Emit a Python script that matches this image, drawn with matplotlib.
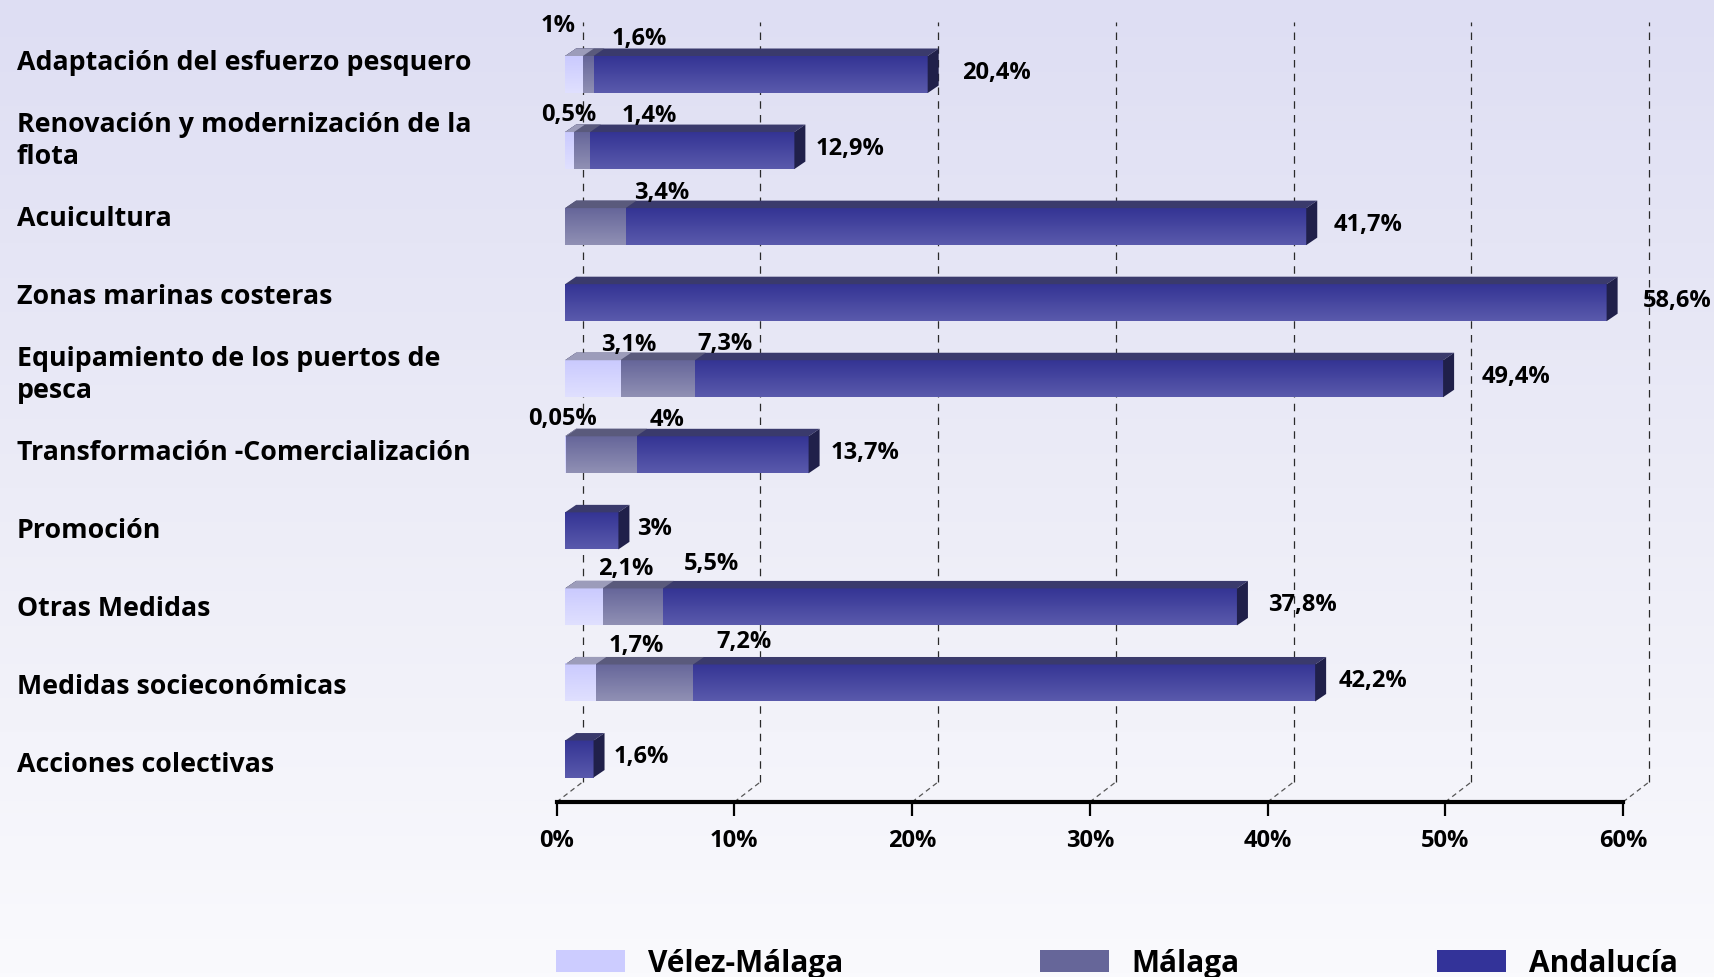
import matplotlib
matplotlib.use('Agg')
import matplotlib.pyplot as plt
import numpy as np
from matplotlib.patches import Polygon, Patch
from matplotlib.colors import LinearSegmentedColormap

categories = ['Adaptación del esfuerzo pesquero',
              'Renovación y modernización de la\nflota',
              'Acuicultura',
              'Zonas marinas costeras',
              'Equipamiento de los puertos de\npesca',
              'Transformación -Comercialización',
              'Promoción',
              'Otras Medidas',
              'Medidas socieconómicas',
              'Acciones colectivas']
velez = [1, 0.5, 0, 0, 3.1, 0.05, 0, 2.1, 1.7, 0]
malaga = [1.6, 1.4, 3.4, 0, 7.3, 4, 0, 5.5, 7.2, 0]
andalucia = [20.4, 12.9, 41.7, 58.6, 49.4, 13.7, 3, 37.8, 42.2, 1.6]
series_names = ['Vélez-Málaga', 'Málaga', 'Andalucía']
x_ticks = [0, 10, 20, 30, 40, 50, 60]

# hand placed label nudges (pixels from bar end / bar centre), as in the original
velez_nudge_x = [-25, -5, 0, 0, 9, -3, 0, 23, 41, 0]
velez_nudge_y = [49, 37, 0, 0, 35, 37, 0, 39, 38, 0]
malaga_nudge_x = [46, 59, 36, 0, 30, 31, 0, 49, 51, 0]
malaga_nudge_y = [37, 36, 35, 0, 36, 36, 0, 44, 42, 0]
andalucia_nudge_x = [34, 21, 27, 36, 39, 22, 19, 31, 23, 20]

plt.rcParams['font.family'] = ['Open Sans', 'DejaVu Sans']
plt.rcParams['font.weight'] = 'bold'

W, H = 1715, 978
fig = plt.figure(figsize=(W / 100, H / 100), dpi=100)

# background gradient
bg = fig.add_axes([0, 0, 1, 1], zorder=-10)
bg_cmap = LinearSegmentedColormap.from_list('bg', ['#dedef3', '#ececf7', '#fafafd'])
bg.imshow(np.linspace(0, 1, 256).reshape(-1, 1), cmap=bg_cmap, aspect='auto', extent=[0, 1, 0, 1])
bg.axis('off')

# plot area geometry (pixels)
x0_px, x1_px = 556.6, 1623
axis_px = 803
row0_px, row_step = 75.5, 76.06
ax = fig.add_axes([x0_px / W, 1 - axis_px / H, (x1_px - x0_px) / W, axis_px / H])
ax.patch.set_alpha(0)
xmax = 60
y_bot = (axis_px - row0_px) / row_step
y_top = -row0_px / row_step

sx = xmax / (x1_px - x0_px)   # data per pixel, x
sy = 1 / row_step             # data per pixel, y

front_dx = 8.5 * sx
depth_x, depth_y = 11 * sx, -7.5 * sy
grid_dx, grid_dy = 26 * sx, -20 * sy
bar_h = 37 * sy

# gridlines on back wall and floor
grid_top = (23 - row0_px) / row_step
for t in x_ticks:
    ax.plot([t + grid_dx, t + grid_dx], [y_bot + grid_dy, grid_top], color='#2a2a2a',
            lw=0.9, dashes=(6, 5), zorder=1, clip_on=False)
    ax.plot([t, t + grid_dx], [y_bot, y_bot + grid_dy], color='#555555',
            lw=0.9, dashes=(4, 3), zorder=1, clip_on=False)

styles = {
    'Andalucía': dict(front=('#343494', '#5a5aac'), top='#3a3a6c', side='#20204a', legend='#333399'),
    'Málaga': dict(front=('#66669a', '#9090b4'), top='#5a5a7c', side='#44445c', legend='#666699'),
    'Vélez-Málaga': dict(front=('#cacafe', '#e0e0ff'), top='#9c9cba', side='#8080a0', legend='#ccccff'),
}


def bar3d(i, v, st, side, z):
    x0 = front_dx
    x1 = front_dx + v
    yt, yb = i - bar_h / 2, i + bar_h / 2
    cmap = LinearSegmentedColormap.from_list('f', list(st['front']))
    ax.imshow(np.linspace(0, 1, 64).reshape(-1, 1), cmap=cmap, aspect='auto',
              extent=[x0, x1, yb, yt], zorder=z, interpolation='bilinear')
    top = [(x0, yt), (x1, yt), (x1 + depth_x, yt + depth_y), (x0 + depth_x, yt + depth_y)]
    ax.add_patch(Polygon(top, closed=True, facecolor=st['top'], edgecolor='none', zorder=z + 0.1))
    if side:
        sd = [(x1, yt), (x1 + depth_x, yt + depth_y), (x1 + depth_x, yb + depth_y), (x1, yb)]
        ax.add_patch(Polygon(sd, closed=True, facecolor=st['side'], edgecolor='none', zorder=z + 0.1))


def fmt(v):
    return ('%g' % v).replace('.', ',') + '%'


for i in range(len(categories)):
    a, m, ve = andalucia[i], malaga[i], velez[i]
    bar3d(i, a, styles['Andalucía'], True, 3)
    if m > 0:
        bar3d(i, m, styles['Málaga'], False, 4)
    if ve > 0:
        bar3d(i, ve, styles['Vélez-Málaga'], False, 5)
    ax.annotate(fmt(a), xy=(front_dx + a, i), xytext=(andalucia_nudge_x[i], 3),
                textcoords='offset pixels', ha='left', va='center', fontsize=17,
                fontweight='bold', zorder=10)
    if m > 0:
        ax.annotate(fmt(m), xy=(front_dx + m, i), xytext=(malaga_nudge_x[i], malaga_nudge_y[i]),
                    textcoords='offset pixels', ha='center', va='center', fontsize=17,
                    fontweight='bold', zorder=10)
    if ve > 0:
        ax.annotate(fmt(ve), xy=(front_dx + ve, i), xytext=(velez_nudge_x[i], velez_nudge_y[i]),
                    textcoords='offset pixels', ha='center', va='center', fontsize=17,
                    fontweight='bold', zorder=10)
    # category label
    fig.text(17 / W, 1 - (63.5 + 78.0 * i) / H, categories[i], ha='left', va='center',
             fontsize=19.3, fontweight='bold', linespacing=1.3)

ax.set_xlim(0, xmax)
ax.set_ylim(y_bot, y_top)
ax.set_xticks(x_ticks)
ax.set_xticklabels([f'{t}%' for t in x_ticks], fontsize=17, fontweight='bold')
ax.set_yticks([])
for s in ['top', 'right', 'left']:
    ax.spines[s].set_visible(False)
ax.spines['bottom'].set_linewidth(3)
ax.tick_params(axis='x', direction='out', length=10, width=1.6, pad=9)

handles = [Patch(facecolor=styles[n]['legend'], edgecolor='none') for n in series_names]
fig.legend(handles, series_names, loc='center left', bbox_to_anchor=(556 / W, 1 - 964 / H),
           ncol=3, frameon=False, handlelength=2.32, handleheight=0.75,
           handletextpad=0.75, columnspacing=6.6, borderpad=0, borderaxespad=0,
           prop={'weight': 'bold', 'size': 21.5})

fig.savefig('out.png', dpi=100)
